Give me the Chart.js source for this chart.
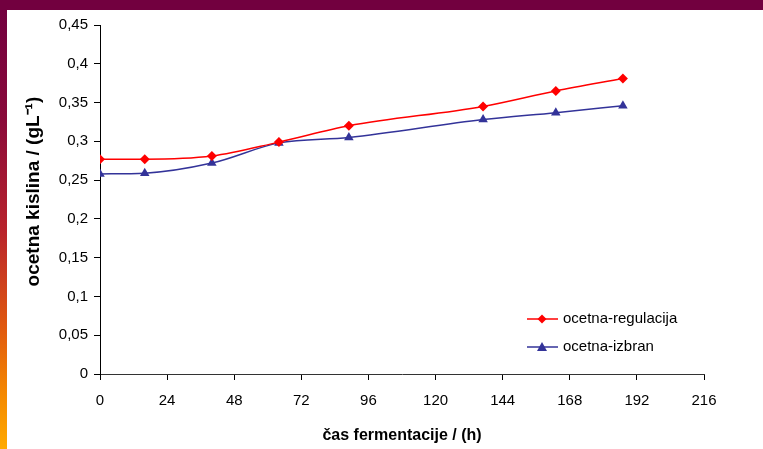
<!DOCTYPE html>
<html>
<head>
<meta charset="utf-8">
<script src="https://cdn.jsdelivr.net/npm/chart.js"></script>
<style>
  html, body { margin: 0; padding: 0; }
  body {
    width: 763px; height: 449px; overflow: hidden; position: relative;
    background: #72003f;
  }
  #strip {
    position: absolute; left: 0; top: 10px; width: 7px; height: 439px;
    background: linear-gradient(#72003f 0%, #8a0a3a 25%, #b8232c 50%, #e0580f 72%, #f58a00 88%, #ffaa00 100%);
  }
  #wrap {
    position: absolute; left: 7px; top: 10px; width: 756px; height: 439px;
    background: #fff;
  }
</style>
</head>
<body>
<div id="strip"></div>
<div id="wrap"><canvas id="chart" width="756" height="439"></canvas></div>
<script>
// fermentation time in hours
const hours = [0, 16, 40, 64, 89, 137, 163, 187];
// acetic acid, g/L
const regulacija = [0.277, 0.277, 0.281, 0.299, 0.320, 0.345, 0.365, 0.381];
const izbran = [0.258, 0.259, 0.272, 0.298, 0.305, 0.328, 0.337, 0.346];
const seriesNames = ['ocetna-regulacija', 'ocetna-izbran'];

const xTicks = [0, 24, 48, 72, 96, 120, 144, 168, 192, 216];
const yTicks = [0, 0.05, 0.1, 0.15, 0.2, 0.25, 0.3, 0.35, 0.4, 0.45];

const FONT = 'Arial, "Liberation Sans", sans-serif';

function toPoints(xs, ys) {
    return xs.map((x, i) => ({ x: x, y: ys[i] }));
}

function fmtComma(v) {
    return String(Math.round(v * 100) / 100).replace('.', ',');
}

// draws the legend inside the plot, like the original spreadsheet chart
const innerLegend = {
    id: 'innerLegend',
    afterDraw(chart) {
        const ctx = chart.ctx;
        ctx.save();
        chart.data.datasets.forEach((ds, i) => {
            const y = 309 + i * 28;
            ctx.strokeStyle = ds.borderColor;
            ctx.lineWidth = 1.5;
            ctx.beginPath();
            ctx.moveTo(520, y);
            ctx.lineTo(551, y);
            ctx.stroke();
            ctx.fillStyle = ds.backgroundColor;
            ctx.beginPath();
            if (ds.pointStyle === 'rectRot') {
                ctx.moveTo(535, y - 4.5);
                ctx.lineTo(539.5, y);
                ctx.lineTo(535, y + 4.5);
                ctx.lineTo(530.5, y);
            } else {
                ctx.moveTo(535, y - 5);
                ctx.lineTo(540, y + 4);
                ctx.lineTo(530, y + 4);
            }
            ctx.closePath();
            ctx.fill();
            ctx.fillStyle = '#000';
            ctx.font = '15px ' + FONT;
            ctx.textBaseline = 'middle';
            ctx.textAlign = 'left';
            ctx.fillText(ds.label, 556, y);
        });
        ctx.restore();
    }
};

const ctx = document.getElementById('chart').getContext('2d');
new Chart(ctx, {
    type: 'line',
    data: {
        datasets: [{
            label: seriesNames[0],
            data: toPoints(hours, regulacija),
            borderColor: '#ff0000',
            backgroundColor: '#ff0000',
            borderWidth: 1.5,
            pointStyle: 'rectRot',
            pointRadius: 5,
            pointBorderWidth: 0,
            cubicInterpolationMode: 'monotone'
        }, {
            label: seriesNames[1],
            data: toPoints(hours, izbran),
            borderColor: '#333399',
            backgroundColor: '#333399',
            borderWidth: 1.5,
            pointStyle: 'triangle',
            pointRadius: 5.5,
            pointBorderWidth: 0,
            cubicInterpolationMode: 'monotone'
        }]
    },
    options: {
        responsive: false,
        animation: false,
        layout: { padding: { top: 14, right: 59, bottom: 0, left: 0 } },
        plugins: {
            legend: { display: false },
            tooltip: { enabled: false }
        },
        scales: {
            x: {
                type: 'linear',
                min: 0,
                max: 216,
                afterBuildTicks: scale => { scale.ticks = xTicks.map(v => ({ value: v })); },
                afterFit: scale => { scale.height = 75; },
                border: { color: '#333', width: 1 },
                grid: { drawOnChartArea: false, color: '#000', tickLength: 6 },
                ticks: {
                    color: '#000',
                    font: { family: FONT, size: 15 },
                    padding: 12,
                    maxRotation: 0,
                    callback: v => String(v)
                },
                title: {
                    display: true,
                    text: 'čas fermentacije / (h)',
                    color: '#000',
                    font: { family: FONT, size: 16, weight: 'bold' },
                    padding: { top: 0, bottom: 4 }
                }
            },
            y: {
                type: 'linear',
                min: 0,
                max: 0.45,
                afterBuildTicks: scale => { scale.ticks = yTicks.map(v => ({ value: v })); },
                afterFit: scale => { scale.width = 93; },
                border: { color: '#000', width: 1 },
                grid: { drawOnChartArea: false, color: '#000', tickLength: 6 },
                ticks: {
                    color: '#000',
                    font: { family: FONT, size: 15 },
                    padding: 6,
                    callback: v => fmtComma(v)
                },
                title: {
                    display: true,
                    // leading spaces nudge the rotated title upward a little
                    text: '   ocetna kislina / (gL⁻¹)',
                    color: '#000',
                    font: { family: FONT, size: 19, weight: 'bold' },
                    padding: { top: 15, bottom: 0 }
                }
            }
        }
    },
    plugins: [innerLegend]
});
</script>
</body>
</html>
